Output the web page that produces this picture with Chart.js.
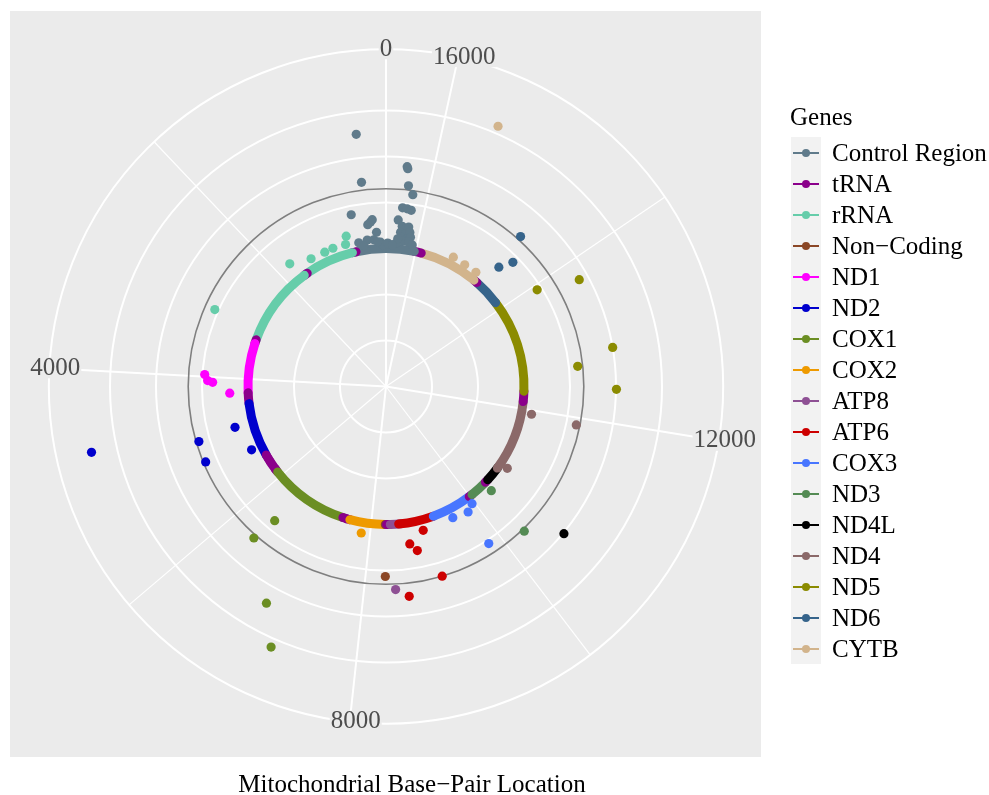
<!DOCTYPE html>
<html>
<head>
<meta charset="utf-8">
<script src="https://cdn.jsdelivr.net/npm/chart.js"></script>
<style>
  body { margin: 0; background: #fff; font-family: "Liberation Serif", "DejaVu Serif", serif; }
  #wrap { position: relative; width: 989px; height: 795px; }
  #mtChart { position: absolute; left: 0; top: 0; }
  .legend-title { position: absolute; left: 790px; top: 102px; font-size: 25px; line-height: 30px; color: #000; }
  .legend { position: absolute; left: 791px; top: 137px; }
  .legend-row { display: flex; align-items: center; height: 31px; }
  .legend-key { position: relative; width: 30px; height: 31px; background: #F2F2F2; }
  .legend-key .ln { position: absolute; left: 2px; width: 26px; top: 14.5px; height: 2px; }
  .legend-key .dot { position: absolute; left: 11px; top: 11.5px; width: 8px; height: 8px; border-radius: 50%; }
  .legend-label { margin-left: 11px; font-size: 25px; color: #000; white-space: nowrap; }
  .x-title { position: absolute; left: 0; width: 824px; top: 769px; text-align: center; font-size: 25px; line-height: 30px; color: #000; }
</style>
</head>
<body>
<div id="wrap">
  <canvas id="mtChart" width="989" height="795"></canvas>
  <div class="legend-title">Genes</div>
  <div class="legend" id="legend"></div>
  <div class="x-title">Mitochondrial Base&minus;Pair Location</div>
</div>
<script>
// mtDNA length (rCRS)
const GENOME_LENGTH = 16569;

const geneNames = ['Control Region', 'tRNA', 'rRNA', 'Non\u2212Coding', 'ND1', 'ND2', 'COX1', 'COX2',
  'ATP8', 'ATP6', 'COX3', 'ND3', 'ND4L', 'ND4', 'ND5', 'ND6', 'CYTB'];
const geneColors = ['#607B8B', '#8B008B', '#66CDAA', '#8B4726', '#FF00FF', '#0000CD', '#6B8E23', '#EE9A00',
  '#8E5094', '#CD0000', '#4876FF', '#548B54', '#000000', '#8B6969', '#8B8B00', '#36648B', '#D2B48C'];

// gene map drawn as the baseline ring (start bp, end bp, gene index)
const segStart = [1, 577, 648, 1602, 1671, 3230, 3307, 4263, 4470, 5512, 5587, 5657, 5761, 5826, 5904, 7446, 7518,
  7586, 8270, 8295, 8366, 8527, 9207, 9991, 10059, 10405, 10470, 10760, 12138, 12337, 14149, 14674, 14747, 15888, 16024];
const segEnd = [576, 647, 1601, 1670, 3229, 3304, 4262, 4469, 5511, 5579, 5655, 5729, 5826, 5891, 7445, 7514, 7585,
  8269, 8294, 8364, 8572, 9207, 9990, 10058, 10404, 10469, 10766, 12137, 12336, 14148, 14673, 14742, 15887, 16023, 16569];
const segGene = [0, 1, 2, 1, 2, 1, 4, 1, 5, 1, 1, 1, 1, 1, 6, 1, 1,
  7, 3, 1, 8, 9, 10, 1, 11, 1, 12, 13, 1, 14, 15, 1, 16, 1, 0];

// variants above the baseline (position bp, score, gene index)
const varPos = [310, 16316, 16306, 315, 16275, 16203, 527, 16325, 16256, 16194, 217, 248, 296, 16376, 162,
  16303, 16260, 16196, 16321, 16233, 16164, 16302, 16205, 16141, 16260, 16158, 16086, 494, 336, 220, 100, 410,
  16518, 16390, 16360, 60, 16540, 150, 16450,
  683, 732, 967, 1128, 1399, 1754, 3029,
  3968, 4054, 4078, 4255,
  4838, 5303, 4897, 5187, 4722,
  6458, 6393, 6955, 7189,
  7843,
  8275,
  8409,
  8952, 8680, 8782, 9044, 8575,
  9955, 9812, 9527, 9812,
  10370, 10296,
  10604,
  11930, 11902, 10862,
  13927, 13758, 12877, 12703, 12395,
  14640, 14470, 14571,
  15497, 15303, 15055, 14811];
const varScore = [5.52, 4.80, 4.76, 4.47, 4.39, 4.21, 3.81, 3.90, 3.89, 3.87, 3.64, 3.59, 3.54, 3.63, 3.36,
  3.50, 3.45, 3.50, 3.37, 3.35, 3.39, 3.26, 3.24, 3.29, 3.18, 3.17, 3.13, 3.18, 3.21, 3.20, 3.14, 3.10,
  3.10, 3.12, 3.22, 3.08, 3.12, 3.15, 3.08,
  3.38, 3.21, 3.22, 3.21, 3.22, 3.39, 4.08,
  3.95, 3.88, 3.77, 3.40,
  3.40, 3.23, 4.24, 4.25, 6.56,
  3.79, 4.37, 5.38, 6.19,
  3.23,
  4.13,
  4.42,
  3.23, 3.46, 3.63, 4.30, 4.59,
  3.16, 3.26, 3.20, 4.08,
  3.22, 4.35,
  5.02,
  3.22, 4.22, 3.18,
  3.90, 4.80, 5.00, 4.19, 5.01,
  4.38, 3.86, 3.57,
  6.16, 3.17, 3.15, 3.16];
const varGene = [0, 0, 0, 0, 0, 0, 0, 0, 0, 0, 0, 0, 0, 0, 0,
  0, 0, 0, 0, 0, 0, 0, 0, 0, 0, 0, 0, 0, 0, 0, 0, 0,
  0, 0, 0, 0, 0, 0, 0,
  2, 2, 2, 2, 2, 2, 2,
  4, 4, 4, 4,
  5, 5, 5, 5, 5,
  6, 6, 6, 6,
  7,
  3,
  8,
  9, 9, 9, 9, 9,
  10, 10, 10, 10,
  11, 11,
  12,
  13, 13, 13,
  14, 14, 14, 14, 14,
  15, 15, 15,
  16, 16, 16, 16];

// axis breaks
const thetaMajor = [0, 4000, 8000, 12000, 16000];
const thetaMinor = [2000, 6000, 10000, 14000];
const radiusBreaks = [1, 2, 3, 4, 5, 6];
const baselineScore = 3;
const thresholdScore = 4.3;
const outerRadius = 7.33;

// position along the genome -> point on the circle (counter-clockwise from the top)
function toXY(pos, r) {
  const t = 2 * Math.PI * pos / GENOME_LENGTH;
  return { x: -r * Math.sin(t), y: r * Math.cos(t) };
}

const datasets = geneNames.map((name, g) => ({
  label: name,
  data: varPos.map((p, i) => i).filter(i => varGene[i] === g).map(i => toXY(varPos[i], varScore[i])),
  backgroundColor: geneColors[g],
  borderWidth: 0,
  pointRadius: 4.6,
  pointHoverRadius: 4.6
}));

// panel, polar grid, theta labels and the gene ring
const polarGrid = {
  id: 'polarGrid',
  beforeDatasetsDraw(chart) {
    const { ctx, chartArea: a, scales: { x, y } } = chart;
    const cx = x.getPixelForValue(0);
    const cy = y.getPixelForValue(0);
    const unit = x.getPixelForValue(1) - cx;
    const px = (pos, r) => { const p = toXY(pos, r); return [x.getPixelForValue(p.x), y.getPixelForValue(p.y)]; };

    ctx.save();
    ctx.fillStyle = '#EBEBEB';
    ctx.fillRect(a.left, a.top, a.right - a.left, a.bottom - a.top);

    ctx.strokeStyle = '#FFFFFF';
    ctx.lineWidth = 2;
    radiusBreaks.concat([outerRadius]).forEach(r => {
      ctx.beginPath();
      ctx.arc(cx, cy, r * unit, 0, 2 * Math.PI);
      ctx.stroke();
    });

    const spoke = (pos, w) => {
      const [ex, ey] = px(pos, outerRadius);
      ctx.lineWidth = w;
      ctx.beginPath();
      ctx.moveTo(cx, cy);
      ctx.lineTo(ex, ey);
      ctx.stroke();
    };
    thetaMinor.forEach(v => spoke(v, 1.2));
    thetaMajor.forEach(v => spoke(v, 2));

    // threshold circle
    ctx.strokeStyle = '#7F7F7F';
    ctx.lineWidth = 1.6;
    ctx.beginPath();
    ctx.arc(cx, cy, thresholdScore * unit, 0, 2 * Math.PI);
    ctx.stroke();

    // theta labels (nudged a little right, as in the original)
    ctx.font = '25px "Liberation Serif", serif';
    ctx.textAlign = 'center';
    ctx.textBaseline = 'middle';
    thetaMajor.forEach(v => {
      let [lx, ly] = px(v, outerRadius);
      if (v !== 0) lx += 6;
      const txt = String(v);
      const w = ctx.measureText(txt).width;
      ctx.fillStyle = '#EBEBEB';
      ctx.fillRect(lx - w / 2 - 1, ly - 11, w + 2, 21);
      ctx.fillStyle = '#4D4D4D';
      ctx.fillText(txt, lx, ly);
    });

    // baseline ring, one arc per gene segment
    ctx.lineWidth = 9;
    ctx.lineCap = 'round';
    segStart.forEach((s, i) => {
      const t0 = 2 * Math.PI * s / GENOME_LENGTH;
      const t1 = 2 * Math.PI * segEnd[i] / GENOME_LENGTH;
      ctx.strokeStyle = geneColors[segGene[i]];
      ctx.beginPath();
      ctx.arc(cx, cy, baselineScore * unit, -Math.PI / 2 - t0, -Math.PI / 2 - t1, true);
      ctx.stroke();
    });
    ctx.restore();
  }
};

new Chart(document.getElementById('mtChart'), {
  type: 'scatter',
  data: { datasets: datasets },
  options: {
    responsive: false,
    animation: false,
    devicePixelRatio: 1,
    layout: { padding: { left: 10, top: 11, right: 228, bottom: 38 } },
    scales: {
      x: { type: 'linear', min: -8.174, max: 8.152, display: false },
      y: { type: 'linear', min: -8.054, max: 8.163, display: false }
    },
    plugins: {
      legend: { display: false },
      tooltip: { enabled: false }
    }
  },
  plugins: [polarGrid]
});

// legend: line + dot keys like the ggplot guide
const legendEl = document.getElementById('legend');
geneNames.forEach((name, g) => {
  const row = document.createElement('div');
  row.className = 'legend-row';
  row.innerHTML = '<div class="legend-key"><div class="ln" style="background:' + geneColors[g] + '"></div>' +
    '<div class="dot" style="background:' + geneColors[g] + '"></div></div>' +
    '<div class="legend-label">' + name + '</div>';
  legendEl.appendChild(row);
});
</script>
</body>
</html>
